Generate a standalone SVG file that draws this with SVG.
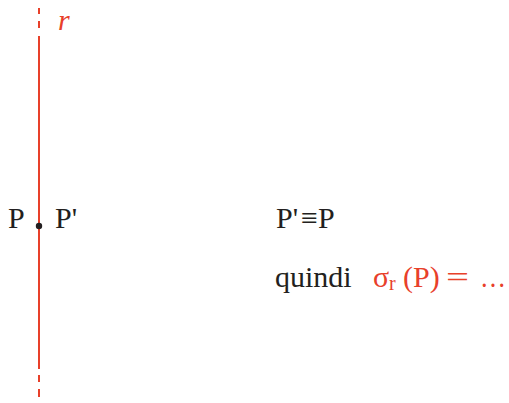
<svg xmlns="http://www.w3.org/2000/svg" width="509" height="403" viewBox="0 0 509 403">
<style>
.t{font-family:"Liberation Serif","Times New Roman",serif;font-size:30px;fill:#231f20}
.r{fill:#e8402a}
.ln{stroke:#e8402a;stroke-width:2;fill:none}
</style>
<rect width="509" height="403" fill="#fff"/>
<g id="connectors">
<line class="ln" x1="39" y1="8" x2="39" y2="14"/>
<line class="ln" x1="39" y1="21" x2="39" y2="28"/>
<line class="ln" x1="39" y1="36" x2="39" y2="369"/>
<line class="ln" x1="39" y1="375" x2="39" y2="382"/>
<line class="ln" x1="39" y1="389" x2="39" y2="397"/>
</g>
<g id="label-r"><text class="t r" x="58" y="30" font-style="italic">r</text></g>
<g id="point-P">
<circle cx="39" cy="226" r="3.2" fill="#231f20"/>
<text class="t" x="8" y="228">P</text>
<text class="t" x="55" y="228">P'</text>
</g>
<g id="eq"><text class="t" y="228"><tspan x="276">P'</tspan><tspan x="301">≡</tspan><tspan x="318">P</tspan></text></g>
<g id="quindi">
<text class="t" x="275" y="287">quindi</text>
<text class="t r" y="287"><tspan x="373">σ</tspan><tspan x="389" font-size="20" dy="3">r</tspan><tspan x="403" dy="-3">(P)</tspan></text>
<text class="t r" x="446" y="287" textLength="23" lengthAdjust="spacingAndGlyphs">=</text>
<text class="t r" x="480" y="287" textLength="26" lengthAdjust="spacingAndGlyphs">…</text>
</g>
</svg>
